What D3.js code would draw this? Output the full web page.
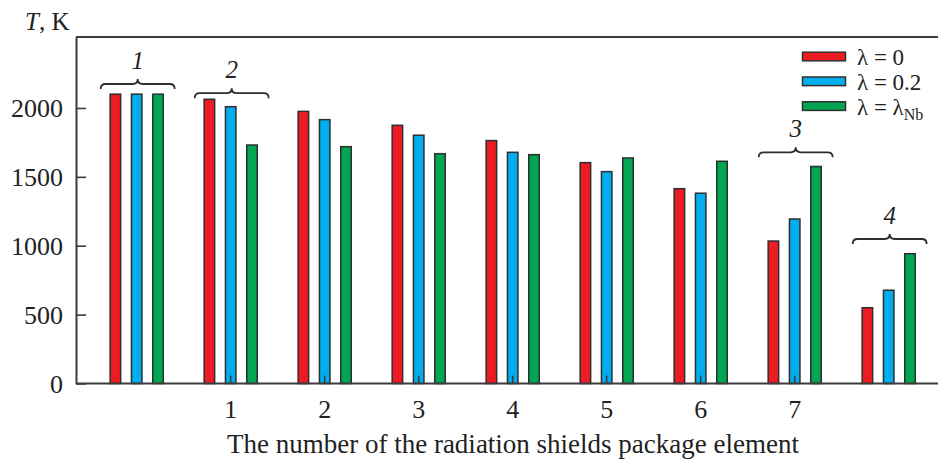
<!DOCTYPE html>
<html>
<head>
<meta charset="utf-8">
<script src="https://cdn.jsdelivr.net/npm/d3@7/dist/d3.min.js"></script>
<style>
  body { margin: 0; background: #fff; }
  svg { display: block; font-family: "Liberation Serif", "Times New Roman", serif; }
</style>
</head>
<body>
<svg id="chart" width="938" height="460"></svg>
<script>
// Temperature of each radiation-shield package element for three emissivity cases
const groups = [0, 1, 2, 3, 4, 5, 6, 7, 8];
const tickLabels = ["", "1", "2", "3", "4", "5", "6", "7", ""];
const seriesKeys = ["l0", "l02", "lNb"];
const lambda0  = [2100, 2063, 1975, 1874, 1763, 1603, 1414, 1034, 550];
const lambda02 = [2100, 2009, 1915, 1802, 1678, 1538, 1381, 1194, 677];
const lambdaNb = [2100, 1731, 1719, 1668, 1661, 1637, 1613, 1575, 942];
const seriesColors = ["#ed1c24", "#00aeef", "#00a651"];
const yTicks = [0, 500, 1000, 1500, 2000];

// Curly-brace annotations: group they sit over, label, and level (K)
const braceGroups = [0, 1, 7, 8];
const braceLabels = ["1", "2", "3", "4"];
const braceLevels = [2174, 2107, 1678, 1049];

const seriesValues = [lambda0, lambda02, lambdaNb];

const svg = d3.select("#chart");
const W = 938;
const plotLeft = 76, plotTop = 37, plotBottom = 383.5;
const axisColor = "#3c3c3c";

const y = d3.scaleLinear().domain([0, 2515]).range([plotBottom, plotTop]);
const x0 = d3.scaleBand().domain(groups).range([89.7, 935.7]).padding(0);
const x1 = d3.scaleBand().domain(seriesKeys).range([0, x0.bandwidth()])
  .paddingInner(0.437).paddingOuter(0.925);

// bars
const barG = svg.append("g");
groups.forEach(g => {
  seriesKeys.forEach((k, si) => {
    const v = seriesValues[si][g];
    barG.append("rect")
      .attr("x", x0(g) + x1(k) + 0.75)
      .attr("y", y(v))
      .attr("width", x1.bandwidth() - 1.5)
      .attr("height", y(0) - y(v))
      .attr("fill", seriesColors[si])
      .attr("stroke", "#2e2e2e")
      .attr("stroke-width", 1.5);
  });
});

// frame lines (top and bottom run to the right edge)
svg.append("line").attr("x1", plotLeft).attr("x2", W).attr("y1", plotTop).attr("y2", plotTop)
  .attr("stroke", axisColor).attr("stroke-width", 2);
svg.append("line").attr("x1", plotLeft).attr("x2", W).attr("y1", plotBottom).attr("y2", plotBottom)
  .attr("stroke", axisColor).attr("stroke-width", 2);

// y axis
const yAxis = svg.append("g").attr("transform", `translate(${plotLeft},0)`)
  .call(d3.axisLeft(y).tickValues(yTicks).tickFormat(d3.format("d"))
    .tickSize(-10).tickSizeOuter(0).tickPadding(13));
yAxis.select(".domain").attr("stroke", axisColor).attr("stroke-width", 2);
yAxis.selectAll(".tick line").attr("stroke", axisColor).attr("stroke-width", 1.6);
yAxis.selectAll(".tick text").attr("font-size", 26).attr("font-family", "Liberation Serif")
  .attr("fill", "#222").attr("dy", "0.34em");

// x axis
const xAxis = svg.append("g").attr("transform", `translate(0,${plotBottom})`)
  .call(d3.axisBottom(x0).tickValues(groups.filter(g => tickLabels[g] !== ""))
    .tickFormat(g => tickLabels[g]).tickSize(-8).tickSizeOuter(0).tickPadding(16));
xAxis.select(".domain").remove();
xAxis.selectAll(".tick line").attr("stroke", axisColor).attr("stroke-width", 1.6);
xAxis.selectAll(".tick text").attr("font-size", 26).attr("font-family", "Liberation Serif")
  .attr("fill", "#222");

// axis titles
const yTitle = svg.append("text").attr("x", 25).attr("y", 30)
  .attr("font-size", 25).attr("fill", "#222");
yTitle.append("tspan").attr("font-style", "italic").text("T");
yTitle.append("tspan").text(", K");

svg.append("text").attr("x", 513).attr("y", 453).attr("text-anchor", "middle")
  .attr("font-size", 27).attr("fill", "#222")
  .text("The number of the radiation shields package element");

// braces
function bracePath(cx, yl, half) {
  const xa = cx - half, xb = cx + half, r = 5, d = 5;
  return `M${xa},${yl + 5} Q${xa},${yl} ${xa + r},${yl} L${cx - r},${yl} ` +
         `Q${cx},${yl} ${cx},${yl - d} Q${cx},${yl} ${cx + r},${yl} ` +
         `L${xb - r},${yl} Q${xb},${yl} ${xb},${yl + 5}`;
}
braceGroups.forEach((g, i) => {
  const cx = x0(g) + x0.bandwidth() / 2 + 1;
  const yl = y(braceLevels[i]);
  svg.append("path").attr("d", bracePath(cx, yl, 37))
    .attr("fill", "none").attr("stroke", "#2e2e2e").attr("stroke-width", 1.8);
  svg.append("text").attr("x", cx).attr("y", yl - 15).attr("text-anchor", "middle")
    .attr("font-size", 25).attr("font-style", "italic").attr("fill", "#222")
    .text(braceLabels[i]);
});

// legend
const legendNames = [["λ = 0"], ["λ = 0.2"], ["λ = λ", "Nb"]];
legendNames.forEach((parts, i) => {
  const cy = 56.5 + i * 24.8;
  svg.append("rect").attr("x", 802.5).attr("y", cy - 4.3).attr("width", 43).attr("height", 8.6)
    .attr("fill", seriesColors[i]).attr("stroke", "#2e2e2e").attr("stroke-width", 1.5);
  const t = svg.append("text").attr("x", 857).attr("y", cy + 8.5)
    .attr("font-size", 23).attr("fill", "#222");
  t.append("tspan").text(parts[0]);
  if (parts[1]) {
    t.append("tspan").attr("dy", 5).attr("font-size", 16).text(parts[1]);
  }
});
</script>
</body>
</html>
